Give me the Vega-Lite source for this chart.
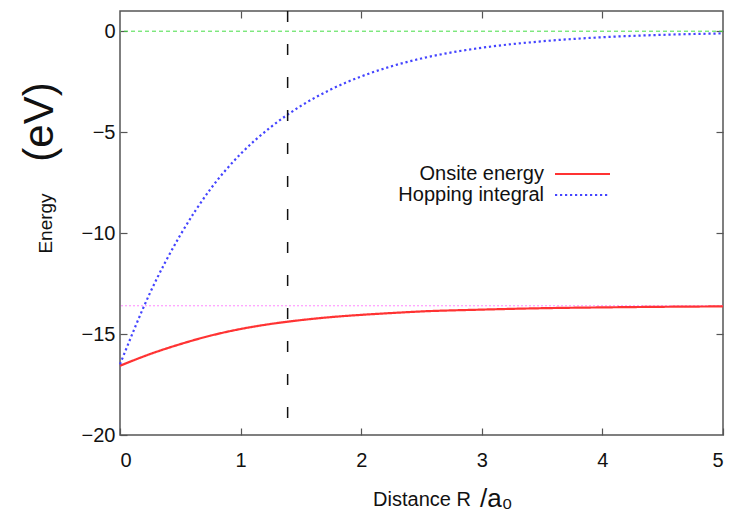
{
  "$schema": "https://vega.github.io/schema/vega-lite/v6.json",
  "width": 603,
  "height": 424,
  "autosize": {"type": "none"},
  "padding": {"left": 120, "top": 11, "right": 9, "bottom": 83},
  "background": "white",
  "config": {
    "font": "Liberation Sans",
    "view": {"stroke": "#555", "strokeWidth": 1.5},
    "axis": {
      "grid": false,
      "domain": false,
      "tickSize": -7,
      "tickColor": "#555",
      "tickWidth": 1.2,
      "labelFont": "Liberation Sans",
      "labelFontSize": 20,
      "labelColor": "#111",
      "titleFont": "Liberation Sans",
      "titleFontWeight": "normal",
      "titleColor": "#111"
    }
  },
  "datasets": {
    "curves": [
      {"R": 0, "E": -16.57, "series": "Onsite energy"},
      {"R": 0.25, "E": -15.99, "series": "Onsite energy"},
      {"R": 0.5, "E": -15.5, "series": "Onsite energy"},
      {"R": 0.75, "E": -15.08, "series": "Onsite energy"},
      {"R": 1.0, "E": -14.75, "series": "Onsite energy"},
      {"R": 1.25, "E": -14.5, "series": "Onsite energy"},
      {"R": 1.5, "E": -14.31, "series": "Onsite energy"},
      {"R": 1.75, "E": -14.16, "series": "Onsite energy"},
      {"R": 2.0, "E": -14.05, "series": "Onsite energy"},
      {"R": 2.25, "E": -13.96, "series": "Onsite energy"},
      {"R": 2.5, "E": -13.88, "series": "Onsite energy"},
      {"R": 3.0, "E": -13.79, "series": "Onsite energy"},
      {"R": 3.5, "E": -13.72, "series": "Onsite energy"},
      {"R": 4.0, "E": -13.68, "series": "Onsite energy"},
      {"R": 4.5, "E": -13.65, "series": "Onsite energy"},
      {"R": 5.0, "E": -13.63, "series": "Onsite energy"},
      {"R": 0, "E": -16.5, "series": "Hopping integral"},
      {"R": 0.25, "E": -12.95, "series": "Hopping integral"},
      {"R": 0.5, "E": -10.1, "series": "Hopping integral"},
      {"R": 0.75, "E": -7.82, "series": "Hopping integral"},
      {"R": 1.0, "E": -6.08, "series": "Hopping integral"},
      {"R": 1.25, "E": -4.75, "series": "Hopping integral"},
      {"R": 1.5, "E": -3.7, "series": "Hopping integral"},
      {"R": 1.75, "E": -2.88, "series": "Hopping integral"},
      {"R": 2.0, "E": -2.24, "series": "Hopping integral"},
      {"R": 2.25, "E": -1.74, "series": "Hopping integral"},
      {"R": 2.5, "E": -1.35, "series": "Hopping integral"},
      {"R": 2.75, "E": -1.05, "series": "Hopping integral"},
      {"R": 3.0, "E": -0.82, "series": "Hopping integral"},
      {"R": 3.5, "E": -0.5, "series": "Hopping integral"},
      {"R": 4.0, "E": -0.3, "series": "Hopping integral"},
      {"R": 4.5, "E": -0.18, "series": "Hopping integral"},
      {"R": 5.0, "E": -0.11, "series": "Hopping integral"}
    ],
    "zero": [{"E": 0}],
    "limit": [{"E": -13.6}],
    "marker": [{"R": 1.39}],
    "notes": [
      {"R": -0.66, "E": -4.5, "label": "(eV)", "kind": "unit"},
      {"R": 3.12, "E": -23.55, "label": "/a₀", "kind": "sub"}
    ]
  },
  "layer": [
    {
      "layer": [
        {
          "data": {"name": "zero"},
          "mark": {"type": "rule", "color": "#44dd44", "strokeWidth": 1, "strokeDash": [4, 3]},
          "encoding": {
            "y": {"field": "E", "type": "quantitative", "scale": {"domain": [-20, 1], "nice": false}}
          }
        },
        {
          "data": {"name": "limit"},
          "mark": {"type": "rule", "color": "#ff88ff", "strokeWidth": 1, "strokeDash": [2, 2]},
          "encoding": {
            "y": {"field": "E", "type": "quantitative"}
          }
        },
        {
          "data": {"name": "curves"},
          "mark": {"type": "line", "strokeWidth": 2.2, "interpolate": "monotone"},
          "encoding": {
            "x": {
              "field": "R", "type": "quantitative",
              "scale": {"domain": [0, 5], "nice": false},
              "axis": {"values": [0, 1, 2, 3, 4, 5], "format": "d", "labelPadding": 22, "title": "Distance R", "titleFontSize": 20, "titlePadding": 19}
            },
            "y": {
              "field": "E", "type": "quantitative",
              "scale": {"domain": [-20, 1], "nice": false},
              "axis": {"values": [-20, -15, -10, -5, 0], "format": "d", "labelPadding": 12, "title": "Energy", "titleFontSize": 19, "titlePadding": 26}
            },
            "color": {
              "field": "series", "type": "nominal",
              "scale": {"domain": ["Onsite energy", "Hopping integral"], "range": ["#ff3333", "#4444ff"]},
              "legend": {"title": null, "orient": "none", "legendX": 434, "legendY": 152, "symbolType": "M-1,0H4.5", "symbolSize": 400, "symbolStrokeWidth": 2, "symbolFillColor": "transparent", "labelFontSize": 20, "labelFont": "Liberation Sans", "labelColor": "#111", "labelAlign": "right", "labelOffset": -32, "rowPadding": 0, "padding": 0}
            },
            "strokeDash": {
              "field": "series", "type": "nominal",
              "scale": {"domain": ["Onsite energy", "Hopping integral"], "range": [[1, 0], [2.2, 2.8]]},
              "legend": {"title": null, "orient": "none", "legendX": 434, "legendY": 152, "symbolType": "M-1,0H4.5", "symbolSize": 400, "symbolStrokeWidth": 2, "symbolFillColor": "transparent", "labelFontSize": 20, "labelFont": "Liberation Sans", "labelColor": "#111", "labelAlign": "right", "labelOffset": -32, "rowPadding": 0, "padding": 0}
            }
          }
        },
        {
          "data": {"name": "marker"},
          "mark": {"type": "rule", "color": "#111", "strokeWidth": 1.5, "strokeDash": [11, 22]},
          "encoding": {
            "x": {"field": "R", "type": "quantitative"}
          }
        },
        {
          "data": {"name": "notes"},
          "transform": [{"filter": "datum.kind === 'unit'"}],
          "mark": {"type": "text", "fontSize": 42, "angle": 270, "align": "center", "baseline": "middle", "color": "#111", "font": "Liberation Sans"},
          "encoding": {
            "x": {"field": "R", "type": "quantitative"},
            "y": {"field": "E", "type": "quantitative"},
            "text": {"field": "label"}
          }
        },
        {
          "data": {"name": "notes"},
          "transform": [{"filter": "datum.kind === 'sub'"}],
          "mark": {"type": "text", "fontSize": 26, "align": "center", "baseline": "alphabetic", "color": "#111", "font": "Liberation Sans"},
          "encoding": {
            "x": {"field": "R", "type": "quantitative"},
            "y": {"field": "E", "type": "quantitative"},
            "text": {"field": "label"}
          }
        }
      ]
    },
    {
      "data": {"values": [{"R": 0, "E": 0}]},
      "mark": {"type": "point", "opacity": 0},
      "encoding": {
        "x": {"field": "R", "type": "quantitative", "scale": {"domain": [0, 5], "nice": false}, "axis": {"orient": "top", "labels": false, "title": null, "values": [1, 2, 3, 4]}},
        "y": {"field": "E", "type": "quantitative", "scale": {"domain": [-20, 1], "nice": false}, "axis": {"orient": "right", "labels": false, "title": null, "values": [-15, -10, -5, 0]}}
      }
    }
  ],
  "resolve": {"axis": {"x": "independent", "y": "independent"}}
}
